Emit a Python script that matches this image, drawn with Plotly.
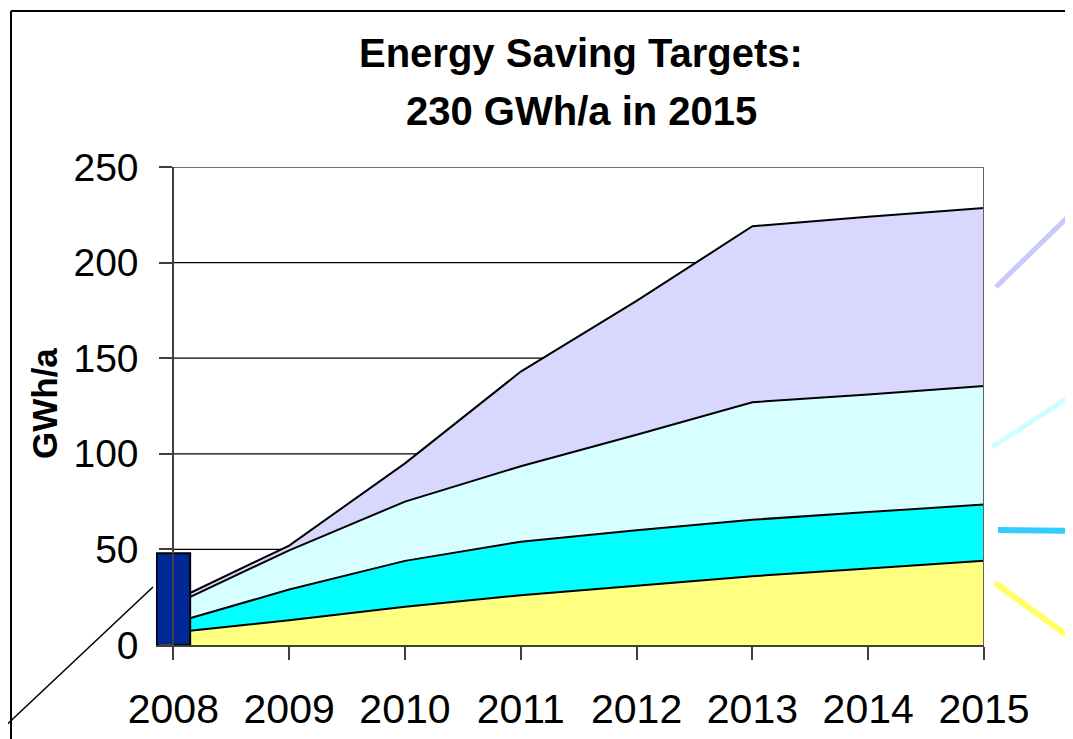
import plotly.graph_objects as go

# ---------------- data ----------------
years = [2008, 2009, 2010, 2011, 2012, 2013, 2014, 2015]
yellow_vals = [6.5, 13, 20, 26, 31, 36, 40, 44]
cyan_vals = [5, 16, 24, 28, 29, 29.5, 29.5, 29.5]
lightcyan_vals = [9.5, 20.5, 31, 39.5, 50, 61.5, 61.5, 62]
lavender_vals = [2, 2.5, 20, 49.5, 70, 92, 93, 93]
bar_years = [2008]
bar_values = [48]
y_ticks = [0, 50, 100, 150, 200, 250]
grid_vals = [50, 100, 150, 200]
title_line1 = "Energy Saving Targets:"
title_line2 = "230 GWh/a in 2015"
y_title = "GWh/a"

# ---------------- geometry (screen pixels; page body has an 8px margin) ----------------
W, H = 1073, 739
OFF = 8
px_left, px_right = 156, 984
px_top, px_bottom = 167, 645
x_lo, x_hi = 2007.85, 2015.0


def px(sx):
    return (sx - OFF) / W


def py(sy):
    return 1 - (sy - OFF) / H


x_dom = [px(px_left), px(px_right)]
y_dom = [py(px_bottom), py(px_top)]
yaxis_pos = px(px_left + (2008 - x_lo) / (x_hi - x_lo) * (px_right - px_left))

FONT = "Liberation Sans, Arial, sans-serif"

fig = go.Figure()

series = [
    ("Yellow", yellow_vals, "#FFFF80"),
    ("Cyan", cyan_vals, "#00FFFF"),
    ("Light cyan", lightcyan_vals, "#D8FFFF"),
    ("Lavender", lavender_vals, "#D8D8FF"),
]
for name, vals, col in series:
    fig.add_trace(go.Scatter(
        x=years, y=vals, name=name, stackgroup="one", mode="lines",
        line=dict(color="black", width=2), fillcolor=col,
        showlegend=False, hoverinfo="x+y+name",
    ))

fig.add_trace(go.Bar(
    x=bar_years, y=bar_values, width=0.29, xaxis="x2", yaxis="y2",
    marker=dict(color="#002896", line=dict(color="black", width=2)),
    showlegend=False,
))

shapes = []
# horizontal gridlines
for g in grid_vals:
    shapes.append(dict(type="line", xref="x", yref="y", x0=2008, x1=2015, y0=g, y1=g,
                       line=dict(color="black", width=1.2), layer="below"))
# plot frame top / right
shapes.append(dict(type="line", xref="x", yref="y", x0=2008, x1=2015, y0=250, y1=250,
                   line=dict(color="#707070", width=2), layer="below"))
shapes.append(dict(type="line", xref="x", yref="y", x0=2015, x1=2015, y0=0, y1=250,
                   line=dict(color="#606060", width=2), layer="above"))
# outer border (top and left)
shapes.append(dict(type="line", xref="paper", yref="paper", x0=px(11), x1=px(1090),
                   y0=py(11), y1=py(11), line=dict(color="black", width=2)))
shapes.append(dict(type="line", xref="paper", yref="paper", x0=px(11), x1=px(11),
                   y0=py(11), y1=py(760), line=dict(color="black", width=2)))
# diagonal connector line bottom-left
shapes.append(dict(type="line", xref="paper", yref="paper", x0=px(0), x1=px(153),
                   y0=py(731), y1=py(587), line=dict(color="black", width=1.5)))
# coloured connector lines at right
deco = [
    ((996, 287), (1080, 205), "#C8C8FF", 5),
    ((992, 447), (1080, 390), "#CCFFFF", 5),
    ((998, 530), (1080, 531), "#33CCFF", 6),
    ((995, 583), (1080, 645), "#FFFF66", 6),
]
for (xa, ya), (xb, yb), col, w in deco:
    shapes.append(dict(type="line", xref="paper", yref="paper", x0=px(xa), x1=px(xb),
                       y0=py(ya), y1=py(yb), line=dict(color=col, width=w)))

annotations = [
    dict(text="<b>" + title_line1 + "</b>", xref="paper", yref="paper", x=px(581), y=py(53),
         xanchor="center", yanchor="middle", showarrow=False,
         font=dict(family=FONT, size=40, color="black")),
    dict(text="<b>" + title_line2 + "</b>", xref="paper", yref="paper", x=px(581), y=py(111),
         xanchor="center", yanchor="middle", showarrow=False,
         font=dict(family=FONT, size=40, color="black")),
    dict(text="<b>" + y_title + "</b>", xref="paper", yref="paper", x=px(44), y=py(404),
         xanchor="center", yanchor="middle", showarrow=False, textangle=-90,
         font=dict(family=FONT, size=35, color="black")),
]

fig.update_layout(
    width=W, height=H,
    margin=dict(l=0, r=0, t=0, b=0, pad=0, autoexpand=False),
    showlegend=False,
    paper_bgcolor="white", plot_bgcolor="white",
    xaxis=dict(domain=x_dom, range=[x_lo, x_hi], tickvals=years,
               ticktext=[str(y) for y in years], ticks="outside", ticklen=13,
               tickcolor="#404040", tickwidth=1.5, showgrid=False, zeroline=False,
               showline=True, linecolor="#404040", linewidth=2, automargin=False,
               tickfont=dict(family=FONT, size=41, color="black"),
               ticklabelstandoff=14),
    yaxis=dict(domain=y_dom, range=[0, 250], tickvals=y_ticks, anchor="free",
               position=yaxis_pos, ticks="outside", ticklen=13, tickcolor="#404040",
               tickwidth=1.5, showgrid=False, zeroline=False, showline=True,
               linecolor="#404040", linewidth=2, automargin=False,
               tickfont=dict(family=FONT, size=39, color="black"),
               ticklabelstandoff=13),
    xaxis2=dict(overlaying="x", range=[x_lo, x_hi], visible=False),
    yaxis2=dict(overlaying="y", range=[0, 250], visible=False),
    shapes=shapes,
    annotations=annotations,
)

fig.write_html("out.html")
